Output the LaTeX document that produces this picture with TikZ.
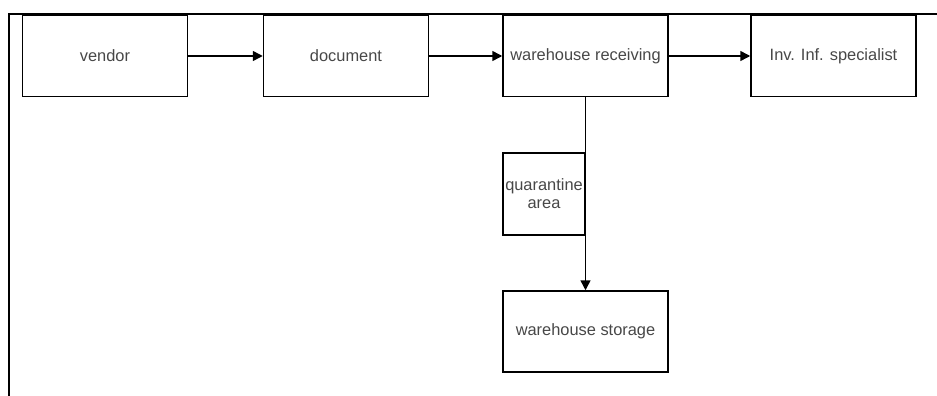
\documentclass[tikz,border=0pt]{standalone}
\usepackage{fontspec}
\setmainfont{Liberation Sans}
\usetikzlibrary{positioning,arrows.meta}

\begin{document}
\begin{tikzpicture}[x=1pt,y=1pt,every node/.style = {draw, line width=1.5pt, shape=rectangle, align=center, minimum width=165pt, minimum height=81pt, text=black!72, font=\fontsize{16.4}{18}\selectfont},flow/.style={-{Triangle[length=10pt,width=10pt]}, line width=1.5pt}]
\useasboundingbox (0,0) rectangle (937,-396);
% frame
\draw[line width=2.4pt] (9,-396) -- (9,-14) -- (937,-14);
\node(vendor) at (105,-56) {vendor};
\node(document) at (346,-56) {document};
\node(receiving) at (585.5,-56) {warehouse receiving};
\node(specialist) at (833.5,-56) {Inv. Inf. specialist};
\node(quarantine) [below=55pt of receiving.south west, anchor=north west, minimum width=82pt, minimum height=82pt, inner sep=1pt] {quarantine\\area};
\node(storage) at (585.5,-331.5) {warehouse storage};
\draw[flow] (vendor) -- (document);
\draw[flow] (document) -- (receiving);
\draw[flow] (receiving) -- (specialist);
\draw[flow] (receiving) -- (storage);
\end{tikzpicture}
\end{document}
